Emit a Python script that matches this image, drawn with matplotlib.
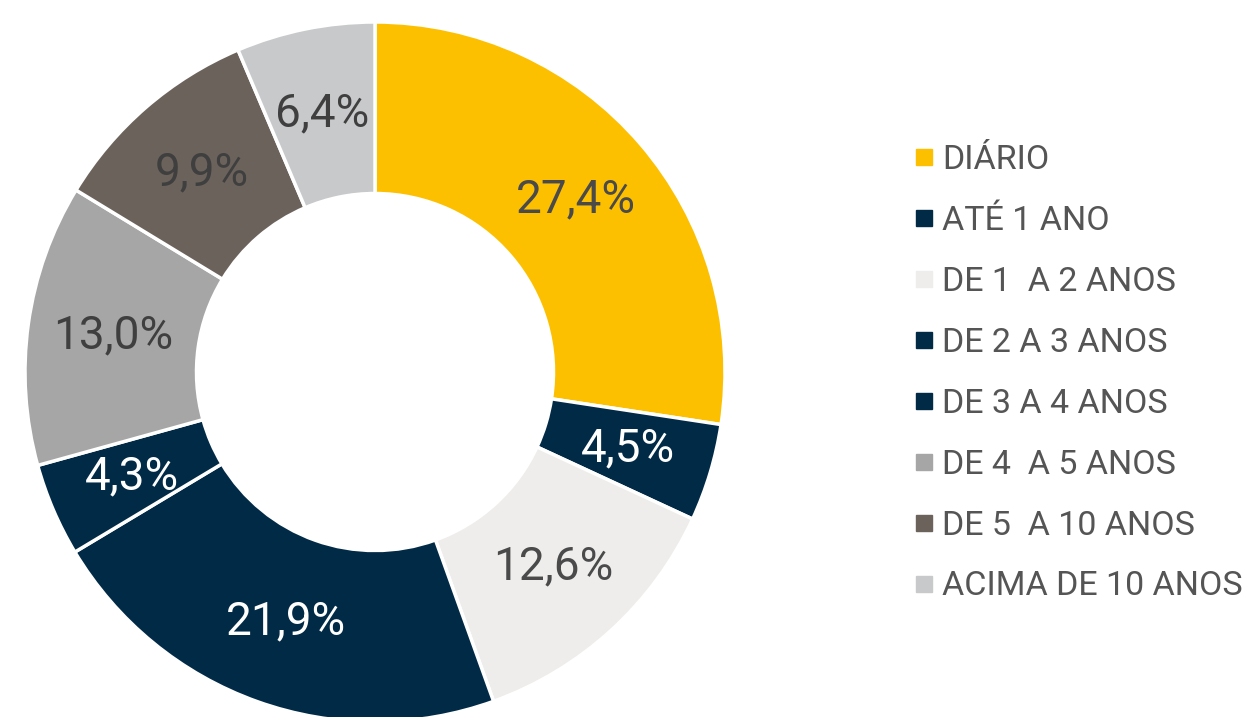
import matplotlib.pyplot as plt
from matplotlib.lines import Line2D

# dados
categorias = ['DIÁRIO', 'ATÉ 1 ANO', 'DE 1  A 2 ANOS', 'DE 2 A 3 ANOS',
              'DE 3 A 4 ANOS', 'DE 4  A 5 ANOS', 'DE 5  A 10 ANOS', 'ACIMA DE 10 ANOS']
valores = [27.4, 4.5, 12.6, 21.9, 4.3, 13.0, 9.9, 6.4]
rotulos = ['27,4%', '4,5%', '12,6%', '21,9%', '4,3%', '13,0%', '9,9%', '6,4%']

cores = ['#FDC000', '#012A47', '#EEEDEB', '#012A47', '#012A47', '#A6A6A6', '#6B625B', '#C8C9CB']
cor_texto = ['#4a4a4a', 'white', '#4a4a4a', 'white', 'white', '#3f3f3f', '#3f3f3f', '#3f3f3f']

plt.rcParams['font.family'] = ['Roboto', 'DejaVu Sans']

fig = plt.figure(figsize=(12.51, 7.17), dpi=100)
ax = fig.add_axes([25 / 1251, (345 - 350) / 717, 700 / 1251, 700 / 717])

wedges, texts = ax.pie(valores, colors=cores, startangle=90, counterclock=False,
                       radius=1, wedgeprops=dict(width=0.49, edgecolor='white', linewidth=2.5),
                       labels=rotulos, labeldistance=0.755)
for t, c in zip(texts, cor_texto):
    t.set_ha('center')
    t.set_va('center')
    t.set_color(c)
    t.set_fontsize(33)
ax.set_xlim(-1, 1)
ax.set_ylim(-1, 1)
ax.axis('off')

handles = [Line2D([], [], marker='s', linestyle='', color=c, markersize=11) for c in cores]
leg = fig.legend(handles, categorias, loc='upper left', bbox_to_anchor=(898 / 1251, 1 - 127 / 717),
                 frameon=False, fontsize=24.5, labelspacing=0.85, handlelength=0.5,
                 handletextpad=0.3, borderpad=0)
for t in leg.get_texts():
    t.set_color('#555555')

fig.savefig('out.png', dpi=100)
